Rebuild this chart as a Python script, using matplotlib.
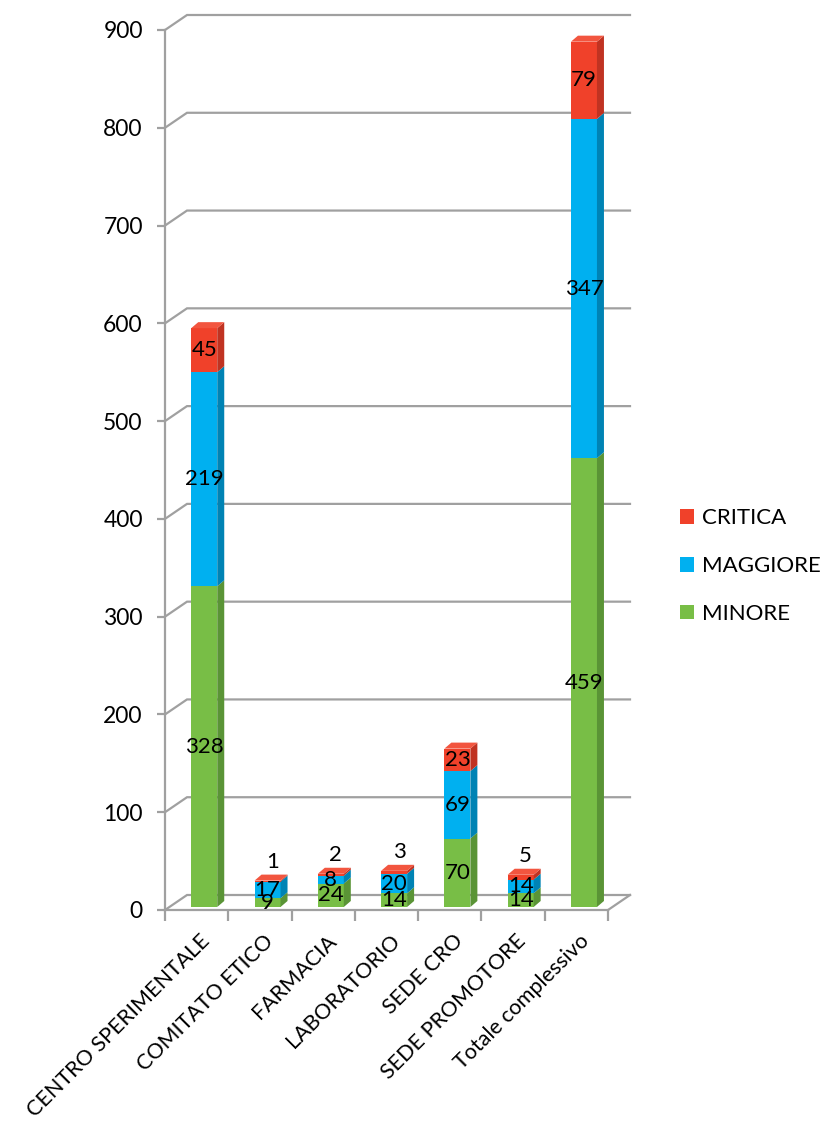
import matplotlib
matplotlib.use("Agg")
import matplotlib.pyplot as plt
from matplotlib.patches import Polygon, Patch

plt.rcParams['font.family'] = ['Lato', 'DejaVu Sans']

categories = ["CENTRO SPERIMENTALE", "COMITATO ETICO", "FARMACIA", "LABORATORIO",
              "SEDE CRO", "SEDE PROMOTORE", "Totale complessivo"]
minore = [328, 9, 24, 14, 70, 14, 459]
maggiore = [219, 17, 8, 20, 69, 14, 347]
critica = [45, 1, 2, 3, 23, 5, 79]
series_names = ["MINORE", "MAGGIORE", "CRITICA"]
yticks = list(range(0, 1000, 100))

front = {"MINORE": "#78BE46", "MAGGIORE": "#00B0F0", "CRITICA": "#F0412A"}
side = {"MINORE": "#5A9436", "MAGGIORE": "#0083B4", "CRITICA": "#C03322"}
top = {"MINORE": "#8ACB5A", "MAGGIORE": "#3CC3F3", "CRITICA": "#F2553F"}

W, H = 828, 1126
fig = plt.figure(figsize=(W / 100, H / 100), dpi=100)
x0, x1, y0, y1 = 165, 608, 910, 30
ax = fig.add_axes([x0 / W, (H - y0) / H, (x1 - x0) / W, (y0 - y1) / H])
ax.set_xlim(0, 7)
ax.set_ylim(0, 900)
ppx = (x1 - x0) / 7.0          # pixels per category
ppy = (y0 - y1) / 900.0        # pixels per unit

grid_c = "#A0A0A0"
D = 22 / ppx                   # wall depth in x units
Dy = 15 / ppy                  # wall depth in y units

# back wall gridlines + side wall
for v in yticks:
    ax.plot([0, D, 7 + D], [v, v + Dy, v + Dy], color=grid_c, lw=1.6,
            clip_on=False, zorder=1, solid_joinstyle='miter')
# floor right edge
ax.plot([7, 7 + D], [0, Dy], color=grid_c, lw=1.6, clip_on=False, zorder=1)

for s in ["top", "right"]:
    ax.spines[s].set_visible(False)
for s in ["left", "bottom"]:
    ax.spines[s].set_color(grid_c)
    ax.spines[s].set_linewidth(1.6)

FS = 16
ax.set_yticks(yticks)
ax.set_yticklabels([str(v) for v in yticks], fontsize=16.5)
ax.tick_params(axis='y', length=6, width=1.6, color=grid_c, pad=10)
ax.set_xticks(range(8))
ax.set_xticklabels([""] * 8)
ax.tick_params(axis='x', which='major', length=8, width=1.6, color=grid_c)
centers = [i + 0.62 for i in range(7)]
ax.set_xticks([c + 0.15 for c in centers], minor=True)
ax.set_xticklabels(categories, minor=True, rotation=45, ha='right', va='top',
                   fontsize=15.5)
ax.tick_params(axis='x', which='minor', length=0, pad=15)

# 3D bars
bw = 26 / ppx
bdx = 7 / ppx
bdy = 6 / ppy
base0 = 3 / ppy
data = {"MINORE": minore, "MAGGIORE": maggiore, "CRITICA": critica}
for i, c in enumerate(centers):
    bottom = base0
    xl, xr = c - bw / 2, c + bw / 2
    for k, name in enumerate(series_names):
        v = data[name][i]
        t = bottom + v
        ax.add_patch(Polygon([(xl, bottom), (xr, bottom), (xr, t), (xl, t)],
                             closed=True, fc=front[name], ec='none', zorder=3,
                             clip_on=False))
        ax.add_patch(Polygon([(xr, bottom), (xr + bdx, bottom + bdy),
                              (xr + bdx, t + bdy), (xr, t)],
                             closed=True, fc=side[name], ec='none', zorder=3,
                             clip_on=False))
        if k == len(series_names) - 1:
            ax.add_patch(Polygon([(xl, t), (xr, t), (xr + bdx, t + bdy),
                                  (xl + bdx, t + bdy)],
                                 closed=True, fc=top[name], ec='none', zorder=3,
                                 clip_on=False))
        # labels
        if name == "CRITICA" and v < 10:
            ax.text(c + 0.08, t + bdy + 3 / ppy, str(v), ha='center', va='bottom',
                    fontsize=FS, zorder=5, clip_on=False)
        else:
            ax.text(c, bottom + v / 2, str(v), ha='center', va='center',
                    fontsize=FS, zorder=5, clip_on=False)
        bottom = t

handles = [Patch(fc=front[n], ec='none') for n in ["CRITICA", "MAGGIORE", "MINORE"]]
fig.legend(handles, ["CRITICA", "MAGGIORE", "MINORE"], loc='center left',
           bbox_to_anchor=(680 / W, (H - 566) / H), frameon=False, fontsize=16,
           handlelength=0.65, handleheight=0.65, handletextpad=0.35,
           labelspacing=1.25, borderpad=0, borderaxespad=0)

fig.savefig("out.png", dpi=100)
